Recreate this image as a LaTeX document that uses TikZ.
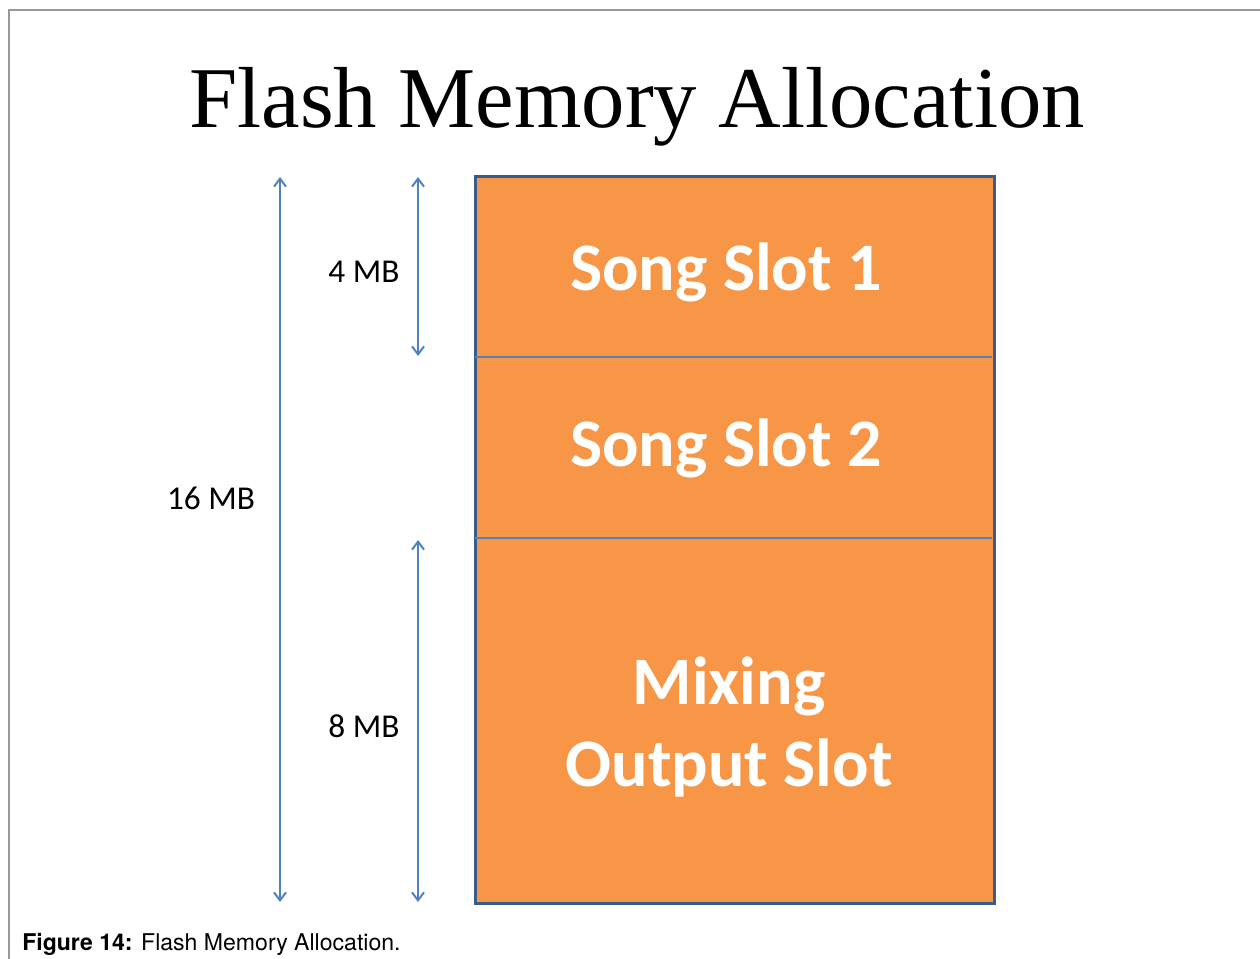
\documentclass[tikz,border=0pt]{standalone}
\usepackage{fontspec}
\setmainfont{Liberation Serif}
\newfontfamily\calib{Carlito}
\newfontfamily\helv{TeX Gyre Heros}
\usetikzlibrary{arrows.meta}
\definecolor{frame}{HTML}{999999}
\definecolor{memfill}{HTML}{F79646}
\definecolor{memedge}{HTML}{385D8A}
\definecolor{arrowblue}{HTML}{4F81BD}
\tikzset{
  dimarrow/.style={draw=arrowblue, line width=1.5pt, {Straight Barb[length=6pt,width=9pt]}-{Straight Barb[length=6pt,width=9pt]}},
  slottext/.style={text=white, font=\calib\bfseries\fontsize{51}{60}\selectfont, align=center},
  dimlabel/.style={font=\calib\fontsize{25}{30}\selectfont, text=black},
}
\begin{document}
\begin{tikzpicture}[x=0.75pt,y=-0.75pt]
\useasboundingbox (0,0) rectangle (1260,959);
% frame
\draw[frame, line width=1.8pt] (9,959) -- (9,10) -- (1260,10);
% title
\node[font=\fontsize{65}{78}\selectfont, anchor=base] (title) at (637,128) {Flash Memory Allocation};
% memory block
\node[draw=memedge, fill=memfill, line width=2.6pt, minimum width=519*0.75pt, minimum height=727*0.75pt, inner sep=0pt, anchor=north west] (mem) at (474,175) {};
\coordinate (d1l) at (475,357); \coordinate (d1r) at (992,357);
\coordinate (d2l) at (475,538); \coordinate (d2r) at (992,538);
\draw[arrowblue!85!gray, line width=1.3pt] (d1l) -- (d1r);
\draw[arrowblue!85!gray, line width=1.3pt] (d2l) -- (d2r);
\node[slottext] (s1) at (726,272) {Song Slot 1};
\node[slottext] (s2) at (726,448) {Song Slot 2};
\node[slottext, font=\calib\bfseries\fontsize{51}{61}\selectfont] (s3) at (729,727) {Mixing\\Output Slot};
% dimension arrows
\coordinate (a16t) at (280,177); \coordinate (a16b) at (280,902);
\coordinate (a4t) at (418,177); \coordinate (a4b) at (418,356);
\coordinate (a8t) at (418,540); \coordinate (a8b) at (418,902);
\draw[dimarrow] (a16t) -- (a16b);
\draw[dimarrow] (a4t) -- (a4b);
\draw[dimarrow] (a8t) -- (a8b);
\node[dimlabel] (l4) at (364,272) {4 MB};
\node[dimlabel] (l16) at (211,498) {16 MB};
\node[dimlabel] (l8) at (364,726) {8 MB};
% caption
\node[font=\helv\fontsize{17.3}{21}\selectfont, anchor=base west, inner sep=0pt] (cap) at (22,950) {\textbf{Figure 14:} Flash Memory Allocation.};
\end{tikzpicture}
\end{document}
